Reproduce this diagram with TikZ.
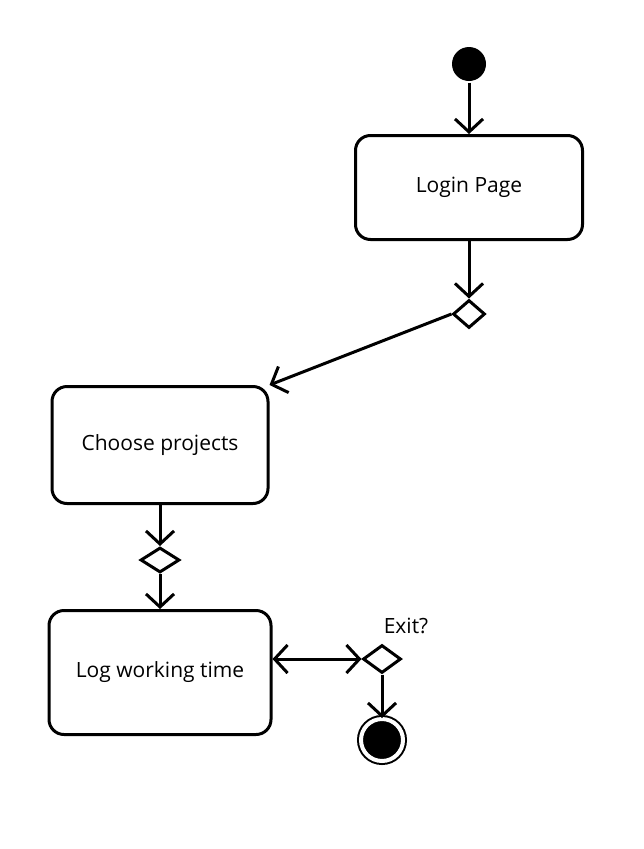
\documentclass[tikz,border=0pt]{standalone}
\usepackage{fontspec}
\setmainfont{Open Sans}
\usetikzlibrary{shapes.geometric,arrows.meta}

\begin{document}
\begin{tikzpicture}
  [x=1pt,y=-1pt,line width=3pt,>={Straight Barb[length=13pt,width=28pt]},
   every node/.style={font=\fontsize{21}{25}\selectfont},
   activity/.style={draw,rounded corners=15pt,inner sep=0pt},
   decision/.style={draw,diamond,inner sep=0pt}]

  \useasboundingbox (0,0) rectangle (643,849);

  \node[style={circle,fill=black,minimum size=34pt,inner sep=0pt}] (start) at (469,64) {};
  \node[activity,minimum width=227pt,minimum height=104pt] (login) at (469,187.5) {Login Page};
  \node[decision,minimum width=32pt,minimum height=28pt] (d1) at (469,314) {};
  \node[activity,minimum width=216pt,minimum height=117pt] (choose) at (160,445) {Choose projects};
  \node[decision,minimum width=39pt,minimum height=25pt] (d2) at (160,560) {};
  \node[activity,minimum width=222pt,minimum height=124pt] (log) at (160,672.5) {Log working time};
  \node[decision,minimum width=38pt,minimum height=28pt] (exit) at (382,659) {};
  \node (exitlabel) at (406,626) {Exit?};
  \node[style={circle,fill=black,draw,double=white,double distance=4pt,line width=2pt,minimum size=42pt,inner sep=0pt}] (end) at (382,740) {};

  \foreach \from/\to in {start/login,login/d1,d1.west/choose.north east,choose/d2,d2/log,exit/end}
    \draw[->] (\from) -- (\to);
  \draw[<->] (exit -| log.east) -- (exit.west);
\end{tikzpicture}
\end{document}
